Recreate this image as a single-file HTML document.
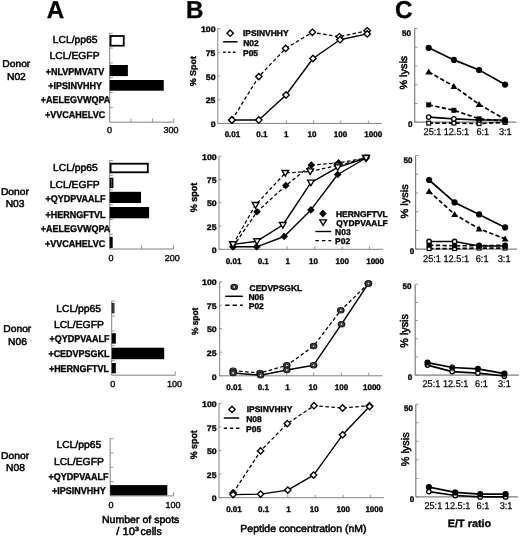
<!DOCTYPE html>
<html><head><meta charset="utf-8"><title>Figure</title>
<style>
html,body{margin:0;padding:0;background:#fff;}
body{width:520px;height:537px;overflow:hidden;}
svg{display:block;font-family:"Liberation Sans", sans-serif;text-rendering:geometricPrecision;}
</style></head>
<body>
<svg width="520" height="537" viewBox="0 0 520 537" font-family='"Liberation Sans", sans-serif' fill="#000">
<rect width="520" height="537" fill="#fff"/>
<g style="will-change:transform">
<text transform="translate(46.65,17.80) scale(0.990,1)" font-size="24.40" font-weight="bold" stroke="#000" stroke-width="0.35">A</text>
<text transform="translate(185.95,18.20) scale(0.990,1)" font-size="24.40" font-weight="bold" stroke="#000" stroke-width="0.35">B</text>
<text transform="translate(395.12,18.30) scale(0.990,1)" font-size="24.40" font-weight="bold" stroke="#000" stroke-width="0.35">C</text>
<line x1="109.70" y1="33.30" x2="109.70" y2="122.20" stroke="#808080" stroke-width="1"/>
<line x1="109.70" y1="122.20" x2="173.80" y2="122.20" stroke="#808080" stroke-width="1"/>
<line x1="131.07" y1="122.20" x2="131.07" y2="118.40" stroke="#808080" stroke-width="0.8"/>
<line x1="152.43" y1="122.20" x2="152.43" y2="118.40" stroke="#808080" stroke-width="0.8"/>
<line x1="173.80" y1="122.20" x2="173.80" y2="118.40" stroke="#808080" stroke-width="0.8"/>
<rect x="110.60" y="36.00" width="13.16" height="9.70" fill="#fff" stroke="#000" stroke-width="1.8"/>
<rect x="109.70" y="65.00" width="18.16" height="11.10" fill="#000"/>
<rect x="109.70" y="80.00" width="54.06" height="10.70" fill="#000"/>
<line x1="109.70" y1="33.30" x2="112.90" y2="33.30" stroke="#808080" stroke-width="0.8"/>
<line x1="109.70" y1="48.12" x2="112.90" y2="48.12" stroke="#808080" stroke-width="0.8"/>
<line x1="109.70" y1="62.93" x2="112.90" y2="62.93" stroke="#808080" stroke-width="0.8"/>
<line x1="109.70" y1="77.75" x2="112.90" y2="77.75" stroke="#808080" stroke-width="0.8"/>
<line x1="109.70" y1="92.57" x2="112.90" y2="92.57" stroke="#808080" stroke-width="0.8"/>
<line x1="109.70" y1="107.38" x2="112.90" y2="107.38" stroke="#808080" stroke-width="0.8"/>
<text transform="translate(2.30,67.30) scale(1.036,1)" font-size="9.93" stroke="#000" stroke-width="0.5">Donor</text>
<text transform="translate(6.96,79.80) scale(1.036,1)" font-size="9.93" stroke="#000" stroke-width="0.5">N02</text>
<text transform="translate(52.81,43.30) scale(1.020,1)" font-size="10.14" stroke="#000" stroke-width="0.5">LCL/pp65</text>
<text transform="translate(49.59,59.30) scale(1.020,1)" font-size="10.14" stroke="#000" stroke-width="0.5">LCL/EGFP</text>
<text transform="translate(45.67,74.60) scale(0.916,1)" font-size="9.82" font-weight="bold" stroke="#000" stroke-width="0.35">+NLVPMVATV</text>
<text transform="translate(48.26,89.20) scale(0.916,1)" font-size="9.82" font-weight="bold" stroke="#000" stroke-width="0.35">+IPSINVHHY</text>
<text transform="translate(40.81,103.30) scale(0.916,1)" font-size="9.82" font-weight="bold" stroke="#000" stroke-width="0.35">+AELEGVWQPA</text>
<text transform="translate(45.10,118.00) scale(0.916,1)" font-size="9.82" font-weight="bold" stroke="#000" stroke-width="0.35">+VVCAHELVC</text>
<text transform="translate(107.09,132.70) scale(1.030,1)" font-size="8.75" stroke="#000" stroke-width="0.35">0</text>
<text transform="translate(163.49,132.70) scale(1.030,1)" font-size="8.75" stroke="#000" stroke-width="0.35">300</text>
<line x1="109.70" y1="160.60" x2="109.70" y2="249.00" stroke="#808080" stroke-width="1"/>
<line x1="109.70" y1="249.00" x2="173.50" y2="249.00" stroke="#808080" stroke-width="1"/>
<line x1="141.60" y1="249.00" x2="141.60" y2="245.20" stroke="#808080" stroke-width="0.8"/>
<line x1="173.50" y1="249.00" x2="173.50" y2="245.20" stroke="#808080" stroke-width="0.8"/>
<rect x="110.60" y="163.70" width="37.21" height="8.60" fill="#fff" stroke="#000" stroke-width="1.8"/>
<rect x="110.60" y="178.60" width="1.90" height="8.60" fill="#fff" stroke="#000" stroke-width="1.8"/>
<rect x="109.70" y="191.80" width="31.33" height="11.20" fill="#000"/>
<rect x="109.70" y="207.00" width="39.43" height="11.30" fill="#000"/>
<rect x="109.70" y="236.90" width="3.00" height="11.10" fill="#000"/>
<line x1="109.70" y1="160.60" x2="112.90" y2="160.60" stroke="#808080" stroke-width="0.8"/>
<line x1="109.70" y1="175.33" x2="112.90" y2="175.33" stroke="#808080" stroke-width="0.8"/>
<line x1="109.70" y1="190.07" x2="112.90" y2="190.07" stroke="#808080" stroke-width="0.8"/>
<line x1="109.70" y1="204.80" x2="112.90" y2="204.80" stroke="#808080" stroke-width="0.8"/>
<line x1="109.70" y1="219.53" x2="112.90" y2="219.53" stroke="#808080" stroke-width="0.8"/>
<line x1="109.70" y1="234.27" x2="112.90" y2="234.27" stroke="#808080" stroke-width="0.8"/>
<text transform="translate(0.95,194.80) scale(1.036,1)" font-size="9.93" stroke="#000" stroke-width="0.5">Donor</text>
<text transform="translate(5.67,207.30) scale(1.036,1)" font-size="9.93" stroke="#000" stroke-width="0.5">N03</text>
<text transform="translate(53.06,171.00) scale(1.020,1)" font-size="10.14" stroke="#000" stroke-width="0.5">LCL/pp65</text>
<text transform="translate(49.79,187.80) scale(1.020,1)" font-size="10.14" stroke="#000" stroke-width="0.5">LCL/EGFP</text>
<text transform="translate(45.55,202.30) scale(0.916,1)" font-size="9.82" font-weight="bold" stroke="#000" stroke-width="0.35">+QYDPVAALF</text>
<text transform="translate(45.43,217.50) scale(0.916,1)" font-size="9.82" font-weight="bold" stroke="#000" stroke-width="0.35">+HERNGFTVL</text>
<text transform="translate(40.81,231.80) scale(0.916,1)" font-size="9.82" font-weight="bold" stroke="#000" stroke-width="0.35">+AELEGVWQPA</text>
<text transform="translate(45.10,246.80) scale(0.916,1)" font-size="9.82" font-weight="bold" stroke="#000" stroke-width="0.35">+VVCAHELVC</text>
<text transform="translate(108.54,260.60) scale(1.030,1)" font-size="8.75" stroke="#000" stroke-width="0.35">0</text>
<text transform="translate(164.69,260.60) scale(1.030,1)" font-size="8.75" stroke="#000" stroke-width="0.35">200</text>
<line x1="111.70" y1="301.20" x2="111.70" y2="375.20" stroke="#808080" stroke-width="1"/>
<line x1="111.70" y1="375.20" x2="175.30" y2="375.20" stroke="#808080" stroke-width="1"/>
<line x1="175.30" y1="375.20" x2="175.30" y2="371.40" stroke="#808080" stroke-width="0.8"/>
<rect x="112.30" y="303.60" width="1.60" height="9.10" fill="#888" stroke="#222" stroke-width="1.2"/>
<rect x="111.70" y="333.20" width="4.13" height="10.40" fill="#000"/>
<rect x="111.70" y="347.70" width="52.47" height="11.50" fill="#000"/>
<rect x="111.70" y="363.00" width="4.13" height="10.30" fill="#000"/>
<line x1="111.70" y1="301.20" x2="114.90" y2="301.20" stroke="#808080" stroke-width="0.8"/>
<line x1="111.70" y1="316.00" x2="114.90" y2="316.00" stroke="#808080" stroke-width="0.8"/>
<line x1="111.70" y1="330.80" x2="114.90" y2="330.80" stroke="#808080" stroke-width="0.8"/>
<line x1="111.70" y1="345.60" x2="114.90" y2="345.60" stroke="#808080" stroke-width="0.8"/>
<line x1="111.70" y1="360.40" x2="114.90" y2="360.40" stroke="#808080" stroke-width="0.8"/>
<text transform="translate(3.30,332.30) scale(1.036,1)" font-size="9.93" stroke="#000" stroke-width="0.5">Donor</text>
<text transform="translate(8.12,344.80) scale(1.036,1)" font-size="9.93" stroke="#000" stroke-width="0.5">N06</text>
<text transform="translate(56.21,311.50) scale(1.020,1)" font-size="10.14" stroke="#000" stroke-width="0.5">LCL/pp65</text>
<text transform="translate(53.89,328.10) scale(1.020,1)" font-size="10.14" stroke="#000" stroke-width="0.5">LCL/EGFP</text>
<text transform="translate(49.50,342.40) scale(0.916,1)" font-size="9.82" font-weight="bold" stroke="#000" stroke-width="0.35">+QYDPVAALF</text>
<text transform="translate(48.38,357.40) scale(0.916,1)" font-size="9.82" font-weight="bold" stroke="#000" stroke-width="0.35">+CEDVPSGKL</text>
<text transform="translate(48.88,372.00) scale(0.916,1)" font-size="9.82" font-weight="bold" stroke="#000" stroke-width="0.35">+HERNGFTVL</text>
<text transform="translate(110.29,387.00) scale(1.030,1)" font-size="8.75" stroke="#000" stroke-width="0.35">0</text>
<text transform="translate(167.07,387.00) scale(1.030,1)" font-size="8.75" stroke="#000" stroke-width="0.35">100</text>
<line x1="110.20" y1="438.60" x2="110.20" y2="495.90" stroke="#808080" stroke-width="1"/>
<line x1="110.20" y1="495.90" x2="173.50" y2="495.90" stroke="#808080" stroke-width="1"/>
<line x1="173.50" y1="495.90" x2="173.50" y2="492.10" stroke="#808080" stroke-width="0.8"/>
<rect x="110.20" y="485.10" width="57.10" height="10.20" fill="#000"/>
<line x1="110.20" y1="438.60" x2="113.40" y2="438.60" stroke="#808080" stroke-width="0.8"/>
<line x1="110.20" y1="452.93" x2="113.40" y2="452.93" stroke="#808080" stroke-width="0.8"/>
<line x1="110.20" y1="467.25" x2="113.40" y2="467.25" stroke="#808080" stroke-width="0.8"/>
<line x1="110.20" y1="481.57" x2="113.40" y2="481.57" stroke="#808080" stroke-width="0.8"/>
<text transform="translate(1.10,459.00) scale(1.036,1)" font-size="9.93" stroke="#000" stroke-width="0.5">Donor</text>
<text transform="translate(6.12,471.20) scale(1.036,1)" font-size="9.93" stroke="#000" stroke-width="0.5">N08</text>
<text transform="translate(56.41,447.90) scale(1.020,1)" font-size="10.14" stroke="#000" stroke-width="0.5">LCL/pp65</text>
<text transform="translate(53.89,464.60) scale(1.020,1)" font-size="10.14" stroke="#000" stroke-width="0.5">LCL/EGFP</text>
<text transform="translate(48.55,479.80) scale(0.916,1)" font-size="9.82" font-weight="bold" stroke="#000" stroke-width="0.35">+QYDPVAALF</text>
<text transform="translate(52.01,493.60) scale(0.916,1)" font-size="9.82" font-weight="bold" stroke="#000" stroke-width="0.35">+IPSINVHHY</text>
<text transform="translate(108.54,507.60) scale(1.030,1)" font-size="8.75" stroke="#000" stroke-width="0.35">0</text>
<text transform="translate(165.42,507.60) scale(1.030,1)" font-size="8.75" stroke="#000" stroke-width="0.35">100</text>
<text transform="translate(101.93,522.60) scale(1.035,1)" font-size="10.21" stroke="#000" stroke-width="0.5">Number of spots</text>
<text transform="translate(116.20,535.10) scale(1.030,1)" font-size="10.90" stroke="#000" stroke-width="0.5">/ 10</text>
<text transform="translate(134.94,531.40) scale(1.154,1)" font-size="6.02" stroke="#000" stroke-width="0.5">3</text>
<text transform="translate(140.45,535.10) scale(0.979,1)" font-size="10.90" stroke="#000" stroke-width="0.5">cells</text>
<line x1="217.80" y1="28.50" x2="217.80" y2="123.40" stroke="#808080" stroke-width="1"/>
<line x1="217.80" y1="123.40" x2="381.80" y2="123.40" stroke="#808080" stroke-width="1"/>
<line x1="217.80" y1="28.50" x2="220.30" y2="28.50" stroke="#808080" stroke-width="0.8"/>
<line x1="217.80" y1="52.23" x2="220.30" y2="52.23" stroke="#808080" stroke-width="0.8"/>
<line x1="217.80" y1="75.95" x2="220.30" y2="75.95" stroke="#808080" stroke-width="0.8"/>
<line x1="217.80" y1="99.68" x2="220.30" y2="99.68" stroke="#808080" stroke-width="0.8"/>
<line x1="217.80" y1="123.40" x2="220.30" y2="123.40" stroke="#808080" stroke-width="0.8"/>
<line x1="259.00" y1="123.40" x2="259.00" y2="120.40" stroke="#808080" stroke-width="0.8"/>
<line x1="286.30" y1="123.40" x2="286.30" y2="120.40" stroke="#808080" stroke-width="0.8"/>
<line x1="313.60" y1="123.40" x2="313.60" y2="120.40" stroke="#808080" stroke-width="0.8"/>
<line x1="340.80" y1="123.40" x2="340.80" y2="120.40" stroke="#808080" stroke-width="0.8"/>
<line x1="368.40" y1="123.40" x2="368.40" y2="120.40" stroke="#808080" stroke-width="0.8"/>
<polyline points="231.90,120.00 258.80,76.60 285.60,48.40 312.40,32.30 339.30,36.80 367.20,30.70" fill="none" stroke="#000" stroke-width="1.25" stroke-dasharray="3.6,2.4" stroke-linejoin="round"/>
<polyline points="231.90,120.00 258.80,120.00 286.00,95.00 313.00,58.50 340.00,39.70 367.20,33.90" fill="none" stroke="#000" stroke-width="1.4" stroke-linejoin="round"/>
<polygon points="231.90,116.80 235.10,120.00 231.90,123.20 228.70,120.00" fill="#fff" stroke="#000" stroke-width="1.35"/>
<polygon points="258.80,73.40 262.00,76.60 258.80,79.80 255.60,76.60" fill="#fff" stroke="#000" stroke-width="1.35"/>
<polygon points="285.60,45.20 288.80,48.40 285.60,51.60 282.40,48.40" fill="#fff" stroke="#000" stroke-width="1.35"/>
<polygon points="312.40,29.10 315.60,32.30 312.40,35.50 309.20,32.30" fill="#fff" stroke="#000" stroke-width="1.35"/>
<polygon points="339.30,33.60 342.50,36.80 339.30,40.00 336.10,36.80" fill="#fff" stroke="#000" stroke-width="1.35"/>
<polygon points="367.20,27.50 370.40,30.70 367.20,33.90 364.00,30.70" fill="#fff" stroke="#000" stroke-width="1.35"/>
<polygon points="231.90,116.80 235.10,120.00 231.90,123.20 228.70,120.00" fill="#fff" stroke="#000" stroke-width="1.35"/>
<polygon points="258.80,116.80 262.00,120.00 258.80,123.20 255.60,120.00" fill="#fff" stroke="#000" stroke-width="1.35"/>
<polygon points="286.00,91.80 289.20,95.00 286.00,98.20 282.80,95.00" fill="#fff" stroke="#000" stroke-width="1.35"/>
<polygon points="313.00,55.30 316.20,58.50 313.00,61.70 309.80,58.50" fill="#fff" stroke="#000" stroke-width="1.35"/>
<polygon points="340.00,36.50 343.20,39.70 340.00,42.90 336.80,39.70" fill="#fff" stroke="#000" stroke-width="1.35"/>
<polygon points="367.20,30.70 370.40,33.90 367.20,37.10 364.00,33.90" fill="#fff" stroke="#000" stroke-width="1.35"/>
<text transform="translate(200.95,32.20) scale(1.090,1)" font-size="8.03" font-weight="bold" stroke="#000" stroke-width="0.35">100</text>
<text transform="translate(205.72,55.92) scale(1.090,1)" font-size="8.03" font-weight="bold" stroke="#000" stroke-width="0.35">75</text>
<text transform="translate(205.83,79.65) scale(1.090,1)" font-size="8.03" font-weight="bold" stroke="#000" stroke-width="0.35">50</text>
<text transform="translate(205.72,103.38) scale(1.090,1)" font-size="8.03" font-weight="bold" stroke="#000" stroke-width="0.35">25</text>
<text transform="translate(210.69,127.10) scale(1.090,1)" font-size="8.03" font-weight="bold" stroke="#000" stroke-width="0.35">0</text>
<text transform="translate(224.64,137.20) scale(1.010,1)" font-size="7.95" font-weight="bold" stroke="#000" stroke-width="0.35">0.01</text>
<text transform="translate(256.37,137.20) scale(1.010,1)" font-size="7.95" font-weight="bold" stroke="#000" stroke-width="0.35">0.1</text>
<text transform="translate(284.03,137.20) scale(1.010,1)" font-size="7.95" font-weight="bold" stroke="#000" stroke-width="0.35">1</text>
<text transform="translate(307.56,137.20) scale(1.010,1)" font-size="7.95" font-weight="bold" stroke="#000" stroke-width="0.35">10</text>
<text transform="translate(333.82,137.20) scale(1.010,1)" font-size="7.95" font-weight="bold" stroke="#000" stroke-width="0.35">100</text>
<text transform="translate(364.29,137.20) scale(1.010,1)" font-size="7.95" font-weight="bold" stroke="#000" stroke-width="0.35">1000</text>
<text transform="translate(195.90,86.32) rotate(-90) scale(1.038,1)" font-size="8.60" font-weight="bold" stroke="#000" stroke-width="0.35">% Spot</text>
<polygon points="230.20,30.00 233.40,33.20 230.20,36.40 227.00,33.20" fill="#fff" stroke="#000" stroke-width="1.35"/>
<line x1="223.10" y1="41.80" x2="237.50" y2="41.80" stroke="#000" stroke-width="1.5"/>
<line x1="223.10" y1="52.20" x2="235.50" y2="52.20" stroke="#000" stroke-width="1.4" stroke-dasharray="2.6,2.3"/>
<text transform="translate(242.92,36.00) scale(1.020,1)" font-size="8.30" font-weight="bold" stroke="#000" stroke-width="0.35">IPSINVHHY</text>
<text transform="translate(243.23,46.00) scale(1.020,1)" font-size="8.30" font-weight="bold" stroke="#000" stroke-width="0.35">N02</text>
<text transform="translate(243.01,56.40) scale(1.020,1)" font-size="8.30" font-weight="bold" stroke="#000" stroke-width="0.35">P05</text>
<line x1="219.00" y1="156.20" x2="219.00" y2="249.30" stroke="#808080" stroke-width="1"/>
<line x1="219.00" y1="249.30" x2="383.00" y2="249.30" stroke="#808080" stroke-width="1"/>
<line x1="219.00" y1="156.20" x2="221.50" y2="156.20" stroke="#808080" stroke-width="0.8"/>
<line x1="219.00" y1="179.47" x2="221.50" y2="179.47" stroke="#808080" stroke-width="0.8"/>
<line x1="219.00" y1="202.75" x2="221.50" y2="202.75" stroke="#808080" stroke-width="0.8"/>
<line x1="219.00" y1="226.03" x2="221.50" y2="226.03" stroke="#808080" stroke-width="0.8"/>
<line x1="219.00" y1="249.30" x2="221.50" y2="249.30" stroke="#808080" stroke-width="0.8"/>
<line x1="260.00" y1="249.30" x2="260.00" y2="246.30" stroke="#808080" stroke-width="0.8"/>
<line x1="287.20" y1="249.30" x2="287.20" y2="246.30" stroke="#808080" stroke-width="0.8"/>
<line x1="314.70" y1="249.30" x2="314.70" y2="246.30" stroke="#808080" stroke-width="0.8"/>
<line x1="342.20" y1="249.30" x2="342.20" y2="246.30" stroke="#808080" stroke-width="0.8"/>
<line x1="369.50" y1="249.30" x2="369.50" y2="246.30" stroke="#808080" stroke-width="0.8"/>
<polyline points="233.00,246.80 257.00,211.70 285.80,185.50 311.30,165.10 338.60,162.90 366.10,158.00" fill="none" stroke="#000" stroke-width="1.25" stroke-dasharray="3.6,2.4" stroke-linejoin="round"/>
<polyline points="233.00,246.80 256.60,246.80 284.20,236.50 310.90,209.90 337.70,174.50 366.10,158.00" fill="none" stroke="#000" stroke-width="1.4" stroke-linejoin="round"/>
<polyline points="233.00,244.40 255.50,205.00 285.30,173.00 310.20,171.40 337.70,165.60 366.10,158.00" fill="none" stroke="#000" stroke-width="1.25" stroke-dasharray="3.6,2.4" stroke-linejoin="round"/>
<polyline points="233.00,244.40 257.00,241.20 282.80,225.00 310.90,182.60 337.70,167.40 366.10,158.00" fill="none" stroke="#000" stroke-width="1.4" stroke-linejoin="round"/>
<polygon points="233.00,243.00 236.80,246.80 233.00,250.60 229.20,246.80" fill="#000"/>
<polygon points="257.00,207.90 260.80,211.70 257.00,215.50 253.20,211.70" fill="#000"/>
<polygon points="285.80,181.70 289.60,185.50 285.80,189.30 282.00,185.50" fill="#000"/>
<polygon points="311.30,161.30 315.10,165.10 311.30,168.90 307.50,165.10" fill="#000"/>
<polygon points="338.60,159.10 342.40,162.90 338.60,166.70 334.80,162.90" fill="#000"/>
<polygon points="366.10,154.20 369.90,158.00 366.10,161.80 362.30,158.00" fill="#000"/>
<polygon points="233.00,243.00 236.80,246.80 233.00,250.60 229.20,246.80" fill="#000"/>
<polygon points="256.60,243.00 260.40,246.80 256.60,250.60 252.80,246.80" fill="#000"/>
<polygon points="284.20,232.70 288.00,236.50 284.20,240.30 280.40,236.50" fill="#000"/>
<polygon points="310.90,206.10 314.70,209.90 310.90,213.70 307.10,209.90" fill="#000"/>
<polygon points="337.70,170.70 341.50,174.50 337.70,178.30 333.90,174.50" fill="#000"/>
<polygon points="366.10,154.20 369.90,158.00 366.10,161.80 362.30,158.00" fill="#000"/>
<polygon points="229.70,241.93 236.30,241.93 233.00,247.53" fill="#fff" stroke="#000" stroke-width="1.35"/>
<polygon points="252.20,202.53 258.80,202.53 255.50,208.13" fill="#fff" stroke="#000" stroke-width="1.35"/>
<polygon points="282.00,170.53 288.60,170.53 285.30,176.13" fill="#fff" stroke="#000" stroke-width="1.35"/>
<polygon points="306.90,168.93 313.50,168.93 310.20,174.53" fill="#fff" stroke="#000" stroke-width="1.35"/>
<polygon points="334.40,163.12 341.00,163.12 337.70,168.73" fill="#fff" stroke="#000" stroke-width="1.35"/>
<polygon points="362.80,155.53 369.40,155.53 366.10,161.13" fill="#fff" stroke="#000" stroke-width="1.35"/>
<polygon points="229.70,241.93 236.30,241.93 233.00,247.53" fill="#fff" stroke="#000" stroke-width="1.35"/>
<polygon points="253.70,238.72 260.30,238.72 257.00,244.33" fill="#fff" stroke="#000" stroke-width="1.35"/>
<polygon points="279.50,222.53 286.10,222.53 282.80,228.13" fill="#fff" stroke="#000" stroke-width="1.35"/>
<polygon points="307.60,180.12 314.20,180.12 310.90,185.73" fill="#fff" stroke="#000" stroke-width="1.35"/>
<polygon points="334.40,164.93 341.00,164.93 337.70,170.53" fill="#fff" stroke="#000" stroke-width="1.35"/>
<polygon points="362.80,155.53 369.40,155.53 366.10,161.13" fill="#fff" stroke="#000" stroke-width="1.35"/>
<text transform="translate(202.05,159.90) scale(1.090,1)" font-size="8.03" font-weight="bold" stroke="#000" stroke-width="0.35">100</text>
<text transform="translate(206.82,183.18) scale(1.090,1)" font-size="8.03" font-weight="bold" stroke="#000" stroke-width="0.35">75</text>
<text transform="translate(206.93,206.45) scale(1.090,1)" font-size="8.03" font-weight="bold" stroke="#000" stroke-width="0.35">50</text>
<text transform="translate(206.82,229.73) scale(1.090,1)" font-size="8.03" font-weight="bold" stroke="#000" stroke-width="0.35">25</text>
<text transform="translate(211.79,253.00) scale(1.090,1)" font-size="8.03" font-weight="bold" stroke="#000" stroke-width="0.35">0</text>
<text transform="translate(225.84,264.00) scale(1.010,1)" font-size="7.95" font-weight="bold" stroke="#000" stroke-width="0.35">0.01</text>
<text transform="translate(257.67,264.00) scale(1.010,1)" font-size="7.95" font-weight="bold" stroke="#000" stroke-width="0.35">0.1</text>
<text transform="translate(285.53,264.00) scale(1.010,1)" font-size="7.95" font-weight="bold" stroke="#000" stroke-width="0.35">1</text>
<text transform="translate(309.06,264.00) scale(1.010,1)" font-size="7.95" font-weight="bold" stroke="#000" stroke-width="0.35">10</text>
<text transform="translate(335.62,264.00) scale(1.010,1)" font-size="7.95" font-weight="bold" stroke="#000" stroke-width="0.35">100</text>
<text transform="translate(366.19,264.00) scale(1.010,1)" font-size="7.95" font-weight="bold" stroke="#000" stroke-width="0.35">1000</text>
<text transform="translate(196.70,212.23) rotate(-90) scale(0.949,1)" font-size="9.50" font-weight="bold" stroke="#000" stroke-width="0.35">% spot</text>
<polygon points="322.90,209.80 326.70,213.60 322.90,217.40 319.10,213.60" fill="#000"/>
<polygon points="319.80,219.83 326.40,219.83 323.10,225.44" fill="#fff" stroke="#000" stroke-width="1.35"/>
<line x1="315.40" y1="231.50" x2="331.20" y2="231.50" stroke="#000" stroke-width="1.4"/>
<line x1="315.40" y1="240.70" x2="331.20" y2="240.70" stroke="#000" stroke-width="1.3" stroke-dasharray="3.5,3"/>
<text transform="translate(335.98,217.00) scale(1.020,1)" font-size="8.30" font-weight="bold" stroke="#000" stroke-width="0.35">HERNGFTVL</text>
<text transform="translate(336.19,225.50) scale(1.020,1)" font-size="8.30" font-weight="bold" stroke="#000" stroke-width="0.35">QYDPVAALF</text>
<text transform="translate(335.11,234.50) scale(1.020,1)" font-size="8.30" font-weight="bold" stroke="#000" stroke-width="0.35">N03</text>
<text transform="translate(335.11,243.50) scale(1.020,1)" font-size="8.30" font-weight="bold" stroke="#000" stroke-width="0.35">P02</text>
<line x1="219.70" y1="281.70" x2="219.70" y2="375.80" stroke="#808080" stroke-width="1"/>
<line x1="219.70" y1="375.80" x2="382.50" y2="375.80" stroke="#808080" stroke-width="1"/>
<line x1="219.70" y1="281.70" x2="222.20" y2="281.70" stroke="#808080" stroke-width="0.8"/>
<line x1="219.70" y1="305.23" x2="222.20" y2="305.23" stroke="#808080" stroke-width="0.8"/>
<line x1="219.70" y1="328.75" x2="222.20" y2="328.75" stroke="#808080" stroke-width="0.8"/>
<line x1="219.70" y1="352.27" x2="222.20" y2="352.27" stroke="#808080" stroke-width="0.8"/>
<line x1="219.70" y1="375.80" x2="222.20" y2="375.80" stroke="#808080" stroke-width="0.8"/>
<line x1="260.30" y1="375.80" x2="260.30" y2="372.80" stroke="#808080" stroke-width="0.8"/>
<line x1="286.70" y1="375.80" x2="286.70" y2="372.80" stroke="#808080" stroke-width="0.8"/>
<line x1="313.60" y1="375.80" x2="313.60" y2="372.80" stroke="#808080" stroke-width="0.8"/>
<line x1="341.50" y1="375.80" x2="341.50" y2="372.80" stroke="#808080" stroke-width="0.8"/>
<line x1="368.80" y1="375.80" x2="368.80" y2="372.80" stroke="#808080" stroke-width="0.8"/>
<polyline points="233.10,370.70 260.00,373.00 286.80,365.40 313.60,346.10 340.80,310.30 368.40,283.50" fill="none" stroke="#000" stroke-width="1.25" stroke-dasharray="3.6,2.4" stroke-linejoin="round"/>
<polyline points="233.10,373.00 260.60,375.20 286.80,370.00 313.60,365.20 341.50,324.20 368.40,283.50" fill="none" stroke="#000" stroke-width="1.4" stroke-linejoin="round"/>
<ellipse cx="233.10" cy="370.70" rx="3.78" ry="3.32" fill="#111"/>
<circle cx="233.10" cy="370.70" r="2.10" fill="none" stroke="#6a6a6a" stroke-width="0.7"/>
<circle cx="233.10" cy="370.70" r="0.95" fill="#e8e8e8"/>
<ellipse cx="260.00" cy="373.00" rx="3.78" ry="3.32" fill="#111"/>
<circle cx="260.00" cy="373.00" r="2.10" fill="none" stroke="#6a6a6a" stroke-width="0.7"/>
<circle cx="260.00" cy="373.00" r="0.95" fill="#e8e8e8"/>
<ellipse cx="286.80" cy="365.40" rx="3.78" ry="3.32" fill="#111"/>
<circle cx="286.80" cy="365.40" r="2.10" fill="none" stroke="#6a6a6a" stroke-width="0.7"/>
<circle cx="286.80" cy="365.40" r="0.95" fill="#e8e8e8"/>
<ellipse cx="313.60" cy="346.10" rx="3.78" ry="3.32" fill="#111"/>
<circle cx="313.60" cy="346.10" r="2.10" fill="none" stroke="#6a6a6a" stroke-width="0.7"/>
<circle cx="313.60" cy="346.10" r="0.95" fill="#e8e8e8"/>
<ellipse cx="340.80" cy="310.30" rx="3.78" ry="3.32" fill="#111"/>
<circle cx="340.80" cy="310.30" r="2.10" fill="none" stroke="#6a6a6a" stroke-width="0.7"/>
<circle cx="340.80" cy="310.30" r="0.95" fill="#e8e8e8"/>
<ellipse cx="368.40" cy="283.50" rx="3.78" ry="3.32" fill="#111"/>
<circle cx="368.40" cy="283.50" r="2.10" fill="none" stroke="#6a6a6a" stroke-width="0.7"/>
<circle cx="368.40" cy="283.50" r="0.95" fill="#e8e8e8"/>
<ellipse cx="233.10" cy="373.00" rx="3.78" ry="3.32" fill="#111"/>
<circle cx="233.10" cy="373.00" r="2.10" fill="none" stroke="#6a6a6a" stroke-width="0.7"/>
<circle cx="233.10" cy="373.00" r="0.95" fill="#e8e8e8"/>
<ellipse cx="260.60" cy="375.20" rx="3.78" ry="3.32" fill="#111"/>
<circle cx="260.60" cy="375.20" r="2.10" fill="none" stroke="#6a6a6a" stroke-width="0.7"/>
<circle cx="260.60" cy="375.20" r="0.95" fill="#e8e8e8"/>
<ellipse cx="286.80" cy="370.00" rx="3.78" ry="3.32" fill="#111"/>
<circle cx="286.80" cy="370.00" r="2.10" fill="none" stroke="#6a6a6a" stroke-width="0.7"/>
<circle cx="286.80" cy="370.00" r="0.95" fill="#e8e8e8"/>
<ellipse cx="313.60" cy="365.20" rx="3.78" ry="3.32" fill="#111"/>
<circle cx="313.60" cy="365.20" r="2.10" fill="none" stroke="#6a6a6a" stroke-width="0.7"/>
<circle cx="313.60" cy="365.20" r="0.95" fill="#e8e8e8"/>
<ellipse cx="341.50" cy="324.20" rx="3.78" ry="3.32" fill="#111"/>
<circle cx="341.50" cy="324.20" r="2.10" fill="none" stroke="#6a6a6a" stroke-width="0.7"/>
<circle cx="341.50" cy="324.20" r="0.95" fill="#e8e8e8"/>
<ellipse cx="368.40" cy="283.50" rx="3.78" ry="3.32" fill="#111"/>
<circle cx="368.40" cy="283.50" r="2.10" fill="none" stroke="#6a6a6a" stroke-width="0.7"/>
<circle cx="368.40" cy="283.50" r="0.95" fill="#e8e8e8"/>
<text transform="translate(202.05,285.40) scale(1.090,1)" font-size="8.03" font-weight="bold" stroke="#000" stroke-width="0.35">100</text>
<text transform="translate(206.82,308.93) scale(1.090,1)" font-size="8.03" font-weight="bold" stroke="#000" stroke-width="0.35">75</text>
<text transform="translate(206.93,332.45) scale(1.090,1)" font-size="8.03" font-weight="bold" stroke="#000" stroke-width="0.35">50</text>
<text transform="translate(206.82,355.97) scale(1.090,1)" font-size="8.03" font-weight="bold" stroke="#000" stroke-width="0.35">25</text>
<text transform="translate(211.79,379.50) scale(1.090,1)" font-size="8.03" font-weight="bold" stroke="#000" stroke-width="0.35">0</text>
<text transform="translate(226.34,389.90) scale(1.010,1)" font-size="7.95" font-weight="bold" stroke="#000" stroke-width="0.35">0.01</text>
<text transform="translate(257.87,389.90) scale(1.010,1)" font-size="7.95" font-weight="bold" stroke="#000" stroke-width="0.35">0.1</text>
<text transform="translate(285.33,389.90) scale(1.010,1)" font-size="7.95" font-weight="bold" stroke="#000" stroke-width="0.35">1</text>
<text transform="translate(308.46,389.90) scale(1.010,1)" font-size="7.95" font-weight="bold" stroke="#000" stroke-width="0.35">10</text>
<text transform="translate(334.72,389.90) scale(1.010,1)" font-size="7.95" font-weight="bold" stroke="#000" stroke-width="0.35">100</text>
<text transform="translate(362.99,389.90) scale(1.010,1)" font-size="7.95" font-weight="bold" stroke="#000" stroke-width="0.35">1000</text>
<text transform="translate(198.00,335.11) rotate(-90) scale(0.938,1)" font-size="8.92" font-weight="bold" stroke="#000" stroke-width="0.35">% spot</text>
<ellipse cx="234.20" cy="287.00" rx="3.78" ry="3.32" fill="#111"/>
<circle cx="234.20" cy="287.00" r="2.10" fill="none" stroke="#6a6a6a" stroke-width="0.7"/>
<circle cx="234.20" cy="287.00" r="0.95" fill="#e8e8e8"/>
<line x1="225.20" y1="296.30" x2="242.80" y2="296.30" stroke="#000" stroke-width="1.5"/>
<line x1="225.20" y1="305.20" x2="242.80" y2="305.20" stroke="#000" stroke-width="1.4" stroke-dasharray="4.4,3"/>
<text transform="translate(249.57,291.00) scale(1.020,1)" font-size="8.30" font-weight="bold" stroke="#000" stroke-width="0.35">CEDVPSGKL</text>
<text transform="translate(248.51,299.90) scale(1.020,1)" font-size="8.30" font-weight="bold" stroke="#000" stroke-width="0.35">N06</text>
<text transform="translate(248.76,309.30) scale(1.020,1)" font-size="8.30" font-weight="bold" stroke="#000" stroke-width="0.35">P02</text>
<line x1="219.00" y1="403.50" x2="219.00" y2="497.70" stroke="#808080" stroke-width="1"/>
<line x1="219.00" y1="497.70" x2="384.00" y2="497.70" stroke="#808080" stroke-width="1"/>
<line x1="219.00" y1="403.50" x2="221.50" y2="403.50" stroke="#808080" stroke-width="0.8"/>
<line x1="219.00" y1="427.05" x2="221.50" y2="427.05" stroke="#808080" stroke-width="0.8"/>
<line x1="219.00" y1="450.60" x2="221.50" y2="450.60" stroke="#808080" stroke-width="0.8"/>
<line x1="219.00" y1="474.15" x2="221.50" y2="474.15" stroke="#808080" stroke-width="0.8"/>
<line x1="219.00" y1="497.70" x2="221.50" y2="497.70" stroke="#808080" stroke-width="0.8"/>
<line x1="260.60" y1="497.70" x2="260.60" y2="494.70" stroke="#808080" stroke-width="0.8"/>
<line x1="287.80" y1="497.70" x2="287.80" y2="494.70" stroke="#808080" stroke-width="0.8"/>
<line x1="315.30" y1="497.70" x2="315.30" y2="494.70" stroke="#808080" stroke-width="0.8"/>
<line x1="343.10" y1="497.70" x2="343.10" y2="494.70" stroke="#808080" stroke-width="0.8"/>
<line x1="370.60" y1="497.70" x2="370.60" y2="494.70" stroke="#808080" stroke-width="0.8"/>
<polyline points="233.10,493.00 260.60,450.90 287.30,423.60 314.00,405.70 342.60,408.00 369.50,405.70" fill="none" stroke="#000" stroke-width="1.25" stroke-dasharray="3.6,2.4" stroke-linejoin="round"/>
<polyline points="233.10,494.60 260.60,494.10 287.80,490.10 313.60,475.10 342.60,434.80 369.50,406.60" fill="none" stroke="#000" stroke-width="1.4" stroke-linejoin="round"/>
<polygon points="233.10,489.80 236.30,493.00 233.10,496.20 229.90,493.00" fill="#fff" stroke="#000" stroke-width="1.35"/>
<polygon points="260.60,447.70 263.80,450.90 260.60,454.10 257.40,450.90" fill="#fff" stroke="#000" stroke-width="1.35"/>
<polygon points="287.30,420.40 290.50,423.60 287.30,426.80 284.10,423.60" fill="#fff" stroke="#000" stroke-width="1.35"/>
<polygon points="314.00,402.50 317.20,405.70 314.00,408.90 310.80,405.70" fill="#fff" stroke="#000" stroke-width="1.35"/>
<polygon points="342.60,404.80 345.80,408.00 342.60,411.20 339.40,408.00" fill="#fff" stroke="#000" stroke-width="1.35"/>
<polygon points="369.50,402.50 372.70,405.70 369.50,408.90 366.30,405.70" fill="#fff" stroke="#000" stroke-width="1.35"/>
<polygon points="233.10,491.40 236.30,494.60 233.10,497.80 229.90,494.60" fill="#fff" stroke="#000" stroke-width="1.35"/>
<polygon points="260.60,490.90 263.80,494.10 260.60,497.30 257.40,494.10" fill="#fff" stroke="#000" stroke-width="1.35"/>
<polygon points="287.80,486.90 291.00,490.10 287.80,493.30 284.60,490.10" fill="#fff" stroke="#000" stroke-width="1.35"/>
<polygon points="313.60,471.90 316.80,475.10 313.60,478.30 310.40,475.10" fill="#fff" stroke="#000" stroke-width="1.35"/>
<polygon points="342.60,431.60 345.80,434.80 342.60,438.00 339.40,434.80" fill="#fff" stroke="#000" stroke-width="1.35"/>
<polygon points="369.50,403.40 372.70,406.60 369.50,409.80 366.30,406.60" fill="#fff" stroke="#000" stroke-width="1.35"/>
<text transform="translate(202.05,407.20) scale(1.090,1)" font-size="8.03" font-weight="bold" stroke="#000" stroke-width="0.35">100</text>
<text transform="translate(206.82,430.75) scale(1.090,1)" font-size="8.03" font-weight="bold" stroke="#000" stroke-width="0.35">75</text>
<text transform="translate(206.93,454.30) scale(1.090,1)" font-size="8.03" font-weight="bold" stroke="#000" stroke-width="0.35">50</text>
<text transform="translate(206.82,477.85) scale(1.090,1)" font-size="8.03" font-weight="bold" stroke="#000" stroke-width="0.35">25</text>
<text transform="translate(211.79,501.40) scale(1.090,1)" font-size="8.03" font-weight="bold" stroke="#000" stroke-width="0.35">0</text>
<text transform="translate(226.14,511.90) scale(1.010,1)" font-size="7.95" font-weight="bold" stroke="#000" stroke-width="0.35">0.01</text>
<text transform="translate(257.97,511.90) scale(1.010,1)" font-size="7.95" font-weight="bold" stroke="#000" stroke-width="0.35">0.1</text>
<text transform="translate(286.33,511.90) scale(1.010,1)" font-size="7.95" font-weight="bold" stroke="#000" stroke-width="0.35">1</text>
<text transform="translate(309.86,511.90) scale(1.010,1)" font-size="7.95" font-weight="bold" stroke="#000" stroke-width="0.35">10</text>
<text transform="translate(336.62,511.90) scale(1.010,1)" font-size="7.95" font-weight="bold" stroke="#000" stroke-width="0.35">100</text>
<text transform="translate(365.39,511.90) scale(1.010,1)" font-size="7.95" font-weight="bold" stroke="#000" stroke-width="0.35">1000</text>
<text transform="translate(196.70,459.32) rotate(-90) scale(0.936,1)" font-size="9.50" font-weight="bold" stroke="#000" stroke-width="0.35">% spot</text>
<polygon points="232.00,406.20 235.20,409.40 232.00,412.60 228.80,409.40" fill="#fff" stroke="#000" stroke-width="1.35"/>
<line x1="223.80" y1="418.00" x2="239.20" y2="418.00" stroke="#000" stroke-width="1.5"/>
<line x1="223.80" y1="428.20" x2="240.20" y2="428.20" stroke="#000" stroke-width="1.4" stroke-dasharray="3.2,3"/>
<text transform="translate(246.67,412.30) scale(1.020,1)" font-size="8.30" font-weight="bold" stroke="#000" stroke-width="0.35">IPSINVHHY</text>
<text transform="translate(246.23,421.80) scale(1.020,1)" font-size="8.30" font-weight="bold" stroke="#000" stroke-width="0.35">N08</text>
<text transform="translate(246.06,432.00) scale(1.020,1)" font-size="8.30" font-weight="bold" stroke="#000" stroke-width="0.35">P05</text>
<text transform="translate(240.33,531.50) scale(1.030,1)" font-size="10.21" stroke="#000" stroke-width="0.5">Peptide concentration (nM)</text>
<line x1="414.70" y1="28.50" x2="414.70" y2="122.20" stroke="#808080" stroke-width="1.2"/>
<line x1="414.70" y1="122.20" x2="516.40" y2="122.20" stroke="#808080" stroke-width="1.2"/>
<line x1="414.70" y1="28.50" x2="417.50" y2="28.50" stroke="#808080" stroke-width="0.8"/>
<line x1="414.70" y1="47.24" x2="417.50" y2="47.24" stroke="#808080" stroke-width="0.8"/>
<line x1="414.70" y1="65.98" x2="417.50" y2="65.98" stroke="#808080" stroke-width="0.8"/>
<line x1="414.70" y1="84.72" x2="417.50" y2="84.72" stroke="#808080" stroke-width="0.8"/>
<line x1="414.70" y1="103.46" x2="417.50" y2="103.46" stroke="#808080" stroke-width="0.8"/>
<line x1="414.70" y1="122.20" x2="417.50" y2="122.20" stroke="#808080" stroke-width="0.8"/>
<polyline points="428.70,123.10 453.90,123.10 479.10,123.60 505.10,122.40" fill="none" stroke="#000" stroke-width="1.7" stroke-dasharray="4.3,2.4" stroke-linejoin="round"/>
<polyline points="428.70,117.10 453.90,118.80 479.10,120.00 505.10,120.00" fill="none" stroke="#000" stroke-width="1.7" stroke-linejoin="round"/>
<polyline points="428.70,104.80 453.90,110.30 479.10,118.80 505.10,121.20" fill="none" stroke="#000" stroke-width="1.7" stroke-dasharray="4.3,2.4" stroke-linejoin="round"/>
<polyline points="428.70,71.90 453.90,86.30 479.10,104.30 505.10,119.50" fill="none" stroke="#000" stroke-width="1.7" stroke-dasharray="4.3,2.4" stroke-linejoin="round"/>
<polyline points="428.70,47.80 453.90,59.90 479.10,70.00 505.10,84.60" fill="none" stroke="#000" stroke-width="1.7" stroke-linejoin="round"/>
<rect x="426.80" y="121.20" width="3.80" height="3.80" fill="#fff" stroke="#000" stroke-width="1.2"/>
<rect x="452.00" y="121.20" width="3.80" height="3.80" fill="#fff" stroke="#000" stroke-width="1.2"/>
<rect x="477.20" y="121.70" width="3.80" height="3.80" fill="#fff" stroke="#000" stroke-width="1.2"/>
<rect x="503.20" y="120.50" width="3.80" height="3.80" fill="#fff" stroke="#000" stroke-width="1.2"/>
<circle cx="428.70" cy="117.10" r="2.25" fill="#fff" stroke="#000" stroke-width="1.3"/>
<circle cx="453.90" cy="118.80" r="2.25" fill="#fff" stroke="#000" stroke-width="1.3"/>
<circle cx="479.10" cy="120.00" r="2.25" fill="#fff" stroke="#000" stroke-width="1.3"/>
<circle cx="505.10" cy="120.00" r="2.25" fill="#fff" stroke="#000" stroke-width="1.3"/>
<rect x="426.20" y="102.30" width="5.00" height="5.00" fill="#000"/>
<rect x="451.40" y="107.80" width="5.00" height="5.00" fill="#000"/>
<rect x="476.60" y="116.30" width="5.00" height="5.00" fill="#000"/>
<rect x="502.60" y="118.70" width="5.00" height="5.00" fill="#000"/>
<polygon points="425.30,74.62 432.10,74.62 428.70,68.50" fill="#000"/>
<polygon points="450.50,89.02 457.30,89.02 453.90,82.90" fill="#000"/>
<polygon points="475.70,107.02 482.50,107.02 479.10,100.90" fill="#000"/>
<polygon points="501.70,122.22 508.50,122.22 505.10,116.10" fill="#000"/>
<circle cx="428.70" cy="47.80" r="3.1" fill="#000"/>
<circle cx="453.90" cy="59.90" r="3.1" fill="#000"/>
<circle cx="479.10" cy="70.00" r="3.1" fill="#000"/>
<circle cx="505.10" cy="84.60" r="3.1" fill="#000"/>
<text transform="translate(402.02,35.70) scale(0.986,1)" font-size="8.17" font-weight="bold" stroke="#000" stroke-width="0.35">50</text>
<text transform="translate(408.01,126.50) scale(0.986,1)" font-size="8.17" font-weight="bold" stroke="#000" stroke-width="0.35">0</text>
<text transform="translate(423.60,134.80) scale(0.936,1)" font-size="9.82" stroke="#000" stroke-width="0.25">25:1</text>
<text transform="translate(443.65,134.80) scale(0.936,1)" font-size="9.82" stroke="#000" stroke-width="0.25">12.5:1</text>
<text transform="translate(476.40,134.80) scale(0.936,1)" font-size="9.82" stroke="#000" stroke-width="0.25">6:1</text>
<text transform="translate(498.96,134.80) scale(0.936,1)" font-size="9.82" stroke="#000" stroke-width="0.25">3:1</text>
<text transform="translate(407.00,89.58) rotate(-90) scale(1.052,1)" font-size="10.34" stroke="#000" stroke-width="0.5">% lysis</text>
<line x1="415.60" y1="155.50" x2="415.60" y2="249.10" stroke="#808080" stroke-width="1.2"/>
<line x1="415.60" y1="249.10" x2="517.00" y2="249.10" stroke="#808080" stroke-width="1.2"/>
<line x1="415.60" y1="155.50" x2="418.40" y2="155.50" stroke="#808080" stroke-width="0.8"/>
<line x1="415.60" y1="174.22" x2="418.40" y2="174.22" stroke="#808080" stroke-width="0.8"/>
<line x1="415.60" y1="192.94" x2="418.40" y2="192.94" stroke="#808080" stroke-width="0.8"/>
<line x1="415.60" y1="211.66" x2="418.40" y2="211.66" stroke="#808080" stroke-width="0.8"/>
<line x1="415.60" y1="230.38" x2="418.40" y2="230.38" stroke="#808080" stroke-width="0.8"/>
<line x1="415.60" y1="249.10" x2="418.40" y2="249.10" stroke="#808080" stroke-width="0.8"/>
<polyline points="429.10,248.60 454.60,248.60 479.10,248.10 505.10,248.10" fill="none" stroke="#000" stroke-width="1.7" stroke-dasharray="4.3,2.4" stroke-linejoin="round"/>
<polyline points="429.10,241.50 454.60,241.50 479.10,246.00 505.10,246.00" fill="none" stroke="#000" stroke-width="1.7" stroke-linejoin="round"/>
<polyline points="429.10,245.20 454.60,245.80 479.10,245.60 505.10,245.40" fill="none" stroke="#000" stroke-width="1.7" stroke-dasharray="4.3,2.4" stroke-linejoin="round"/>
<polyline points="429.10,191.30 454.60,214.40 479.10,228.80 505.10,238.90" fill="none" stroke="#000" stroke-width="1.7" stroke-dasharray="4.3,2.4" stroke-linejoin="round"/>
<polyline points="429.10,180.00 454.60,202.40 479.10,214.40 505.10,227.40" fill="none" stroke="#000" stroke-width="1.7" stroke-linejoin="round"/>
<rect x="427.20" y="246.70" width="3.80" height="3.80" fill="#fff" stroke="#000" stroke-width="1.2"/>
<rect x="452.70" y="246.70" width="3.80" height="3.80" fill="#fff" stroke="#000" stroke-width="1.2"/>
<rect x="477.20" y="246.20" width="3.80" height="3.80" fill="#fff" stroke="#000" stroke-width="1.2"/>
<rect x="503.20" y="246.20" width="3.80" height="3.80" fill="#fff" stroke="#000" stroke-width="1.2"/>
<circle cx="429.10" cy="241.50" r="2.25" fill="#fff" stroke="#000" stroke-width="1.3"/>
<circle cx="454.60" cy="241.50" r="2.25" fill="#fff" stroke="#000" stroke-width="1.3"/>
<circle cx="479.10" cy="246.00" r="2.25" fill="#fff" stroke="#000" stroke-width="1.3"/>
<circle cx="505.10" cy="246.00" r="2.25" fill="#fff" stroke="#000" stroke-width="1.3"/>
<rect x="426.60" y="242.70" width="5.00" height="5.00" fill="#000"/>
<rect x="452.10" y="243.30" width="5.00" height="5.00" fill="#000"/>
<circle cx="479.10" cy="245.60" r="3.0" fill="#000"/>
<circle cx="505.10" cy="245.40" r="3.0" fill="#000"/>
<polygon points="425.70,194.02 432.50,194.02 429.10,187.90" fill="#000"/>
<polygon points="451.20,217.12 458.00,217.12 454.60,211.00" fill="#000"/>
<polygon points="475.70,231.52 482.50,231.52 479.10,225.40" fill="#000"/>
<polygon points="501.70,241.62 508.50,241.62 505.10,235.50" fill="#000"/>
<circle cx="429.10" cy="180.00" r="3.1" fill="#000"/>
<circle cx="454.60" cy="202.40" r="3.1" fill="#000"/>
<circle cx="479.10" cy="214.40" r="3.1" fill="#000"/>
<circle cx="505.10" cy="227.40" r="3.1" fill="#000"/>
<text transform="translate(403.62,162.80) scale(0.986,1)" font-size="8.17" font-weight="bold" stroke="#000" stroke-width="0.35">50</text>
<text transform="translate(409.66,253.70) scale(0.986,1)" font-size="8.17" font-weight="bold" stroke="#000" stroke-width="0.35">0</text>
<text transform="translate(423.05,261.80) scale(0.936,1)" font-size="9.82" stroke="#000" stroke-width="0.25">25:1</text>
<text transform="translate(443.50,261.80) scale(0.936,1)" font-size="9.82" stroke="#000" stroke-width="0.25">12.5:1</text>
<text transform="translate(475.75,261.80) scale(0.936,1)" font-size="9.82" stroke="#000" stroke-width="0.25">6:1</text>
<text transform="translate(497.76,261.80) scale(0.936,1)" font-size="9.82" stroke="#000" stroke-width="0.25">3:1</text>
<text transform="translate(407.60,218.48) rotate(-90) scale(1.061,1)" font-size="10.34" stroke="#000" stroke-width="0.5">% lysis</text>
<line x1="415.20" y1="284.20" x2="415.20" y2="375.20" stroke="#808080" stroke-width="1.2"/>
<line x1="415.20" y1="375.20" x2="518.80" y2="375.20" stroke="#808080" stroke-width="1.2"/>
<line x1="415.20" y1="284.20" x2="418.00" y2="284.20" stroke="#808080" stroke-width="0.8"/>
<line x1="415.20" y1="302.40" x2="418.00" y2="302.40" stroke="#808080" stroke-width="0.8"/>
<line x1="415.20" y1="320.60" x2="418.00" y2="320.60" stroke="#808080" stroke-width="0.8"/>
<line x1="415.20" y1="338.80" x2="418.00" y2="338.80" stroke="#808080" stroke-width="0.8"/>
<line x1="415.20" y1="357.00" x2="418.00" y2="357.00" stroke="#808080" stroke-width="0.8"/>
<line x1="415.20" y1="375.20" x2="418.00" y2="375.20" stroke="#808080" stroke-width="0.8"/>
<polyline points="427.50,365.10 452.20,371.60 477.90,373.10 504.40,376.00" fill="none" stroke="#000" stroke-width="1.7" stroke-linejoin="round"/>
<polyline points="427.50,362.70 452.20,367.50 477.90,368.80 504.40,373.60" fill="none" stroke="#000" stroke-width="1.7" stroke-linejoin="round"/>
<circle cx="427.50" cy="365.10" r="2.25" fill="#fff" stroke="#000" stroke-width="1.3"/>
<circle cx="452.20" cy="371.60" r="2.25" fill="#fff" stroke="#000" stroke-width="1.3"/>
<circle cx="477.90" cy="373.10" r="2.25" fill="#fff" stroke="#000" stroke-width="1.3"/>
<circle cx="504.40" cy="376.00" r="2.25" fill="#fff" stroke="#000" stroke-width="1.3"/>
<circle cx="427.50" cy="362.70" r="3.1" fill="#000"/>
<circle cx="452.20" cy="367.50" r="3.1" fill="#000"/>
<circle cx="477.90" cy="368.80" r="3.1" fill="#000"/>
<circle cx="504.40" cy="373.60" r="3.1" fill="#000"/>
<text transform="translate(402.57,288.80) scale(0.986,1)" font-size="8.17" font-weight="bold" stroke="#000" stroke-width="0.35">50</text>
<text transform="translate(407.81,379.80) scale(0.986,1)" font-size="8.17" font-weight="bold" stroke="#000" stroke-width="0.35">0</text>
<text transform="translate(422.50,387.20) scale(0.936,1)" font-size="9.82" stroke="#000" stroke-width="0.25">25:1</text>
<text transform="translate(442.90,387.20) scale(0.936,1)" font-size="9.82" stroke="#000" stroke-width="0.25">12.5:1</text>
<text transform="translate(475.05,387.20) scale(0.936,1)" font-size="9.82" stroke="#000" stroke-width="0.25">6:1</text>
<text transform="translate(498.01,387.20) scale(0.936,1)" font-size="9.82" stroke="#000" stroke-width="0.25">3:1</text>
<text transform="translate(407.60,347.68) rotate(-90) scale(0.968,1)" font-size="11.17" stroke="#000" stroke-width="0.5">% lysis</text>
<line x1="415.80" y1="404.20" x2="415.80" y2="496.90" stroke="#808080" stroke-width="1.2"/>
<line x1="415.80" y1="496.90" x2="518.00" y2="496.90" stroke="#808080" stroke-width="1.2"/>
<line x1="415.80" y1="404.20" x2="418.60" y2="404.20" stroke="#808080" stroke-width="0.8"/>
<line x1="415.80" y1="422.74" x2="418.60" y2="422.74" stroke="#808080" stroke-width="0.8"/>
<line x1="415.80" y1="441.28" x2="418.60" y2="441.28" stroke="#808080" stroke-width="0.8"/>
<line x1="415.80" y1="459.82" x2="418.60" y2="459.82" stroke="#808080" stroke-width="0.8"/>
<line x1="415.80" y1="478.36" x2="418.60" y2="478.36" stroke="#808080" stroke-width="0.8"/>
<line x1="415.80" y1="496.90" x2="418.60" y2="496.90" stroke="#808080" stroke-width="0.8"/>
<polyline points="428.90,491.60 455.30,495.50 480.20,496.90 505.60,496.90" fill="none" stroke="#000" stroke-width="1.7" stroke-linejoin="round"/>
<polyline points="428.90,487.10 455.30,492.40 480.20,494.20 505.60,494.20" fill="none" stroke="#000" stroke-width="1.7" stroke-linejoin="round"/>
<circle cx="428.90" cy="491.60" r="2.25" fill="#fff" stroke="#000" stroke-width="1.3"/>
<circle cx="455.30" cy="495.50" r="2.25" fill="#fff" stroke="#000" stroke-width="1.3"/>
<circle cx="480.20" cy="496.90" r="2.25" fill="#fff" stroke="#000" stroke-width="1.3"/>
<circle cx="505.60" cy="496.90" r="2.25" fill="#fff" stroke="#000" stroke-width="1.3"/>
<circle cx="428.90" cy="487.10" r="3.1" fill="#000"/>
<circle cx="455.30" cy="492.40" r="3.1" fill="#000"/>
<circle cx="480.20" cy="494.20" r="3.1" fill="#000"/>
<circle cx="505.60" cy="494.20" r="3.1" fill="#000"/>
<text transform="translate(404.02,410.90) scale(0.986,1)" font-size="8.17" font-weight="bold" stroke="#000" stroke-width="0.35">50</text>
<text transform="translate(409.81,501.90) scale(0.986,1)" font-size="8.17" font-weight="bold" stroke="#000" stroke-width="0.35">0</text>
<text transform="translate(424.40,509.20) scale(0.936,1)" font-size="9.82" stroke="#000" stroke-width="0.25">25:1</text>
<text transform="translate(444.80,509.20) scale(0.936,1)" font-size="9.82" stroke="#000" stroke-width="0.25">12.5:1</text>
<text transform="translate(476.55,509.20) scale(0.936,1)" font-size="9.82" stroke="#000" stroke-width="0.25">6:1</text>
<text transform="translate(499.71,509.20) scale(0.936,1)" font-size="9.82" stroke="#000" stroke-width="0.25">3:1</text>
<text transform="translate(408.50,466.28) rotate(-90) scale(1.001,1)" font-size="10.90" stroke="#000" stroke-width="0.5">% lysis</text>
<text transform="translate(447.87,526.50) scale(1.020,1)" font-size="10.62" font-weight="bold" stroke="#000" stroke-width="0.35">E/T ratio</text>
</g>
</svg>
</body></html>
